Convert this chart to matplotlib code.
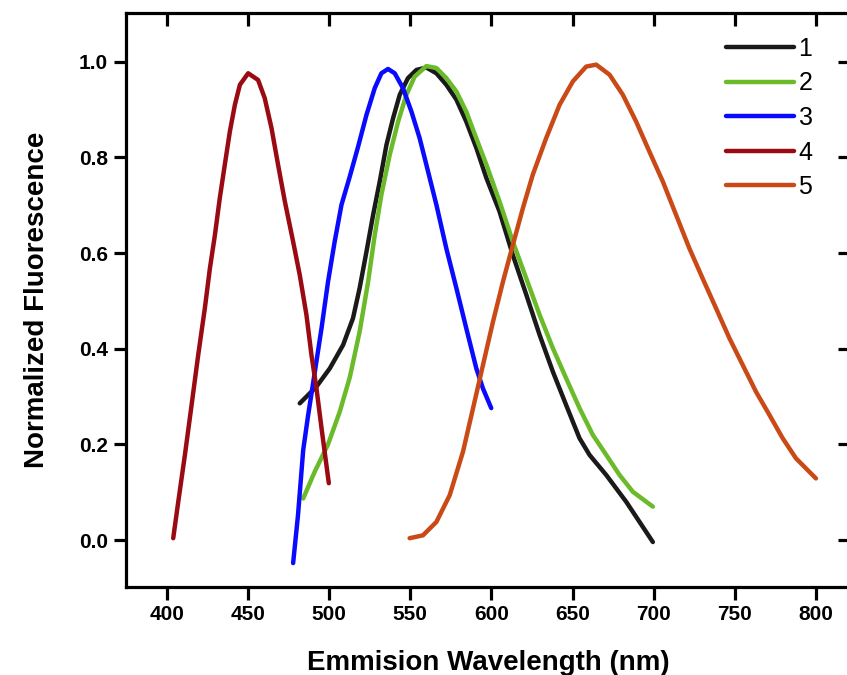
import numpy as np
import matplotlib
matplotlib.use('Agg')
import matplotlib.pyplot as plt

plt.rcParams['font.family'] = ['Liberation Sans', 'DejaVu Sans']

# curve data (wavelength nm, normalized fluorescence)
x1 = [481.9, 492.2, 500.4, 508.6, 514.7, 518.8, 523.0, 527.1, 531.2, 535.3, 539.4, 543.5, 548.6, 553.8, 559.9,
      566.1, 572.2, 578.4, 584.5, 590.7, 596.9, 605.0, 613.2, 621.5, 629.7, 637.9, 646.1, 654.3, 660.5, 670.8,
      683.1, 691.3, 699.5]
y1 = [0.286, 0.321, 0.359, 0.408, 0.464, 0.527, 0.603, 0.680, 0.750, 0.826, 0.882, 0.931, 0.966, 0.983, 0.988,
      0.976, 0.952, 0.921, 0.875, 0.820, 0.757, 0.687, 0.596, 0.513, 0.429, 0.352, 0.282, 0.213, 0.178, 0.136,
      0.080, 0.038, -0.004]

x2 = [484.0, 491.1, 499.3, 506.5, 512.7, 518.8, 524.0, 528.1, 532.2, 537.3, 542.5, 547.6, 552.7, 559.9,
      566.1, 572.2, 578.4, 584.5, 590.7, 596.9, 605.0, 613.2, 621.5, 629.7, 637.9, 646.1, 654.3, 662.5, 670.8,
      679.0, 687.2, 699.5]
y2 = [0.087, 0.143, 0.200, 0.268, 0.340, 0.436, 0.540, 0.638, 0.722, 0.805, 0.875, 0.931, 0.969, 0.991,
      0.987, 0.966, 0.938, 0.896, 0.840, 0.785, 0.708, 0.624, 0.547, 0.471, 0.401, 0.338, 0.276, 0.220, 0.178,
      0.136, 0.101, 0.070]

x3 = [477.8, 480.8, 484.0, 487.0, 491.1, 495.3, 499.3, 503.4, 507.6, 512.7, 517.8, 523.0, 528.1, 532.2, 536.3,
      540.4, 545.5, 550.7, 555.8, 559.9, 566.1, 572.2, 578.4, 584.5, 590.7, 594.8, 599.9]
y3 = [-0.048, 0.052, 0.188, 0.260, 0.350, 0.443, 0.540, 0.624, 0.701, 0.760, 0.822, 0.889, 0.945, 0.976, 0.985,
      0.976, 0.945, 0.896, 0.840, 0.785, 0.701, 0.610, 0.527, 0.443, 0.359, 0.317, 0.276]

x4 = [403.9, 407.0, 411.1, 415.2, 419.3, 423.4, 426.5, 429.6, 432.6, 435.7, 438.8, 441.9, 445.0, 450.1, 456.2,
      460.3, 464.5, 468.5, 472.7, 477.8, 481.9, 486.0, 489.1, 492.2, 495.3, 499.8]
y4 = [0.004, 0.080, 0.178, 0.282, 0.387, 0.485, 0.568, 0.638, 0.715, 0.785, 0.854, 0.910, 0.952, 0.976, 0.962,
      0.924, 0.861, 0.785, 0.708, 0.624, 0.554, 0.471, 0.387, 0.317, 0.234, 0.119]

x5 = [549.6, 557.8, 566.1, 574.3, 582.5, 588.7, 594.8, 601.0, 607.1, 613.2, 619.4, 625.5, 633.7, 642.0, 650.2,
      658.4, 664.6, 672.8, 681.0, 689.2, 697.4, 705.6, 713.8, 722.0, 730.2, 738.4, 746.7, 754.9, 763.1, 771.3,
      779.5, 787.7, 800.0]
y5 = [0.004, 0.010, 0.038, 0.094, 0.185, 0.276, 0.366, 0.457, 0.540, 0.617, 0.694, 0.764, 0.840, 0.910, 0.959,
      0.990, 0.994, 0.973, 0.931, 0.875, 0.812, 0.750, 0.680, 0.610, 0.547, 0.485, 0.422, 0.366, 0.310, 0.262,
      0.213, 0.171, 0.129]

labels = ['1', '2', '3', '4', '5']
colors = ['#1a1a1a', '#6aba2a', '#0a0aff', '#9a0a12', '#c94a16']

fig = plt.figure(figsize=(8.47, 6.75), dpi=100)
ax = fig.add_axes([126/847, 88/675, 724/847, 574/675])

for xs, ys, lab, c in zip([x1, x2, x3, x4, x5], [y1, y2, y3, y4, y5], labels, colors):
    ax.plot(xs, ys, color=c, lw=3.2, label=lab, solid_capstyle='round', solid_joinstyle='round')

ax.set_xlim(374.8, 821)
ax.set_ylim(-0.098, 1.102)
ax.set_xticks([400, 450, 500, 550, 600, 650, 700, 750, 800])
ax.set_yticks([0.0, 0.2, 0.4, 0.6, 0.8, 1.0])
ax.set_yticklabels(['0.0', '0.2', '0.4', '0.6', '0.8', '1.0'])

for s in ax.spines.values():
    s.set_linewidth(2.3)
ax.tick_params(axis='both', which='both', direction='out', length=9, width=2.3, labelsize=15, pad=4)
for t in ax.get_xticklabels() + ax.get_yticklabels():
    t.set_fontweight('bold')

# inward ticks on top and right
axt = ax.secondary_xaxis('top')
axt.set_xticks([400, 450, 500, 550, 600, 650, 700, 750, 800])
axt.tick_params(direction='in', length=9, width=2.3, labeltop=False)
axr = ax.secondary_yaxis('right')
axr.set_yticks([0.0, 0.2, 0.4, 0.6, 0.8, 1.0])
axr.tick_params(direction='in', length=9, width=2.3, labelright=False)

ax.set_xlabel('Emmision Wavelength (nm)', fontsize=20, fontweight='bold', labelpad=19)
ax.set_ylabel('Normalized Fluorescence', fontsize=20, fontweight='bold', labelpad=21)

ax.legend(loc='upper left', bbox_to_anchor=(726/847, 1 - 37/675), bbox_transform=fig.transFigure,
          frameon=False, fontsize=18, handlelength=2.7, handletextpad=0.2,
          labelspacing=0.42, borderpad=0, borderaxespad=0)

fig.savefig('out.png', dpi=100)
